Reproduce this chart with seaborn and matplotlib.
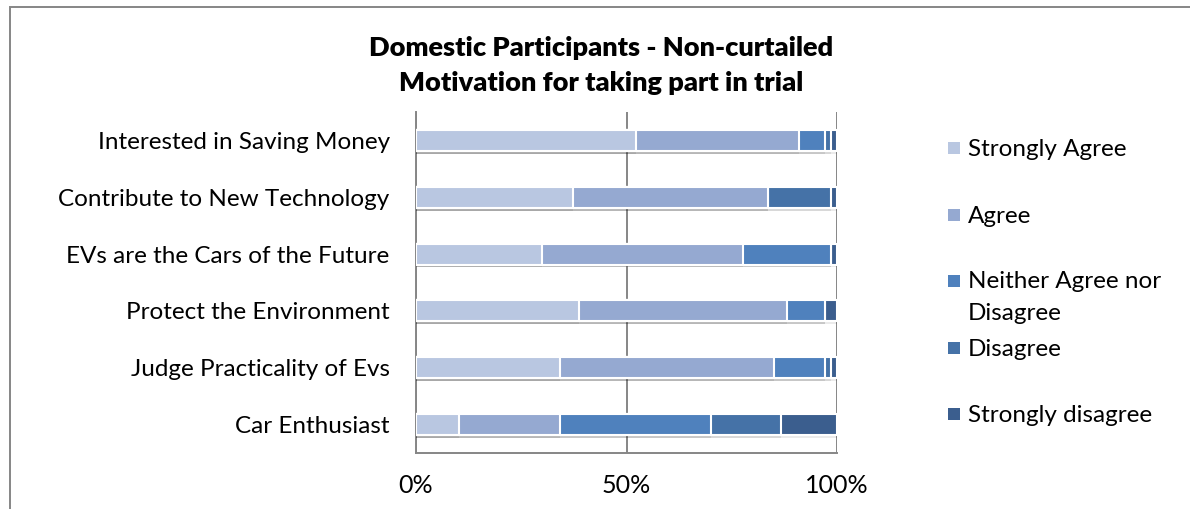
import numpy as np
import pandas as pd
import matplotlib
matplotlib.use("Agg")
import matplotlib.pyplot as plt
import matplotlib.patheffects as pe
from matplotlib.patches import Rectangle
import seaborn as sns

# data (percent of participants)
categories = ["Interested in Saving Money", "Contribute to New Technology",
              "EVs are the Cars of the Future", "Protect the Environment",
              "Judge Practicality of Evs", "Car Enthusiast"]
strongly_agree = [52.2, 37.2, 29.9, 38.7, 34.3, 10.2]
agree = [38.8, 46.4, 47.8, 49.3, 50.8, 24.1]
neither = [6.1, 0.0, 20.8, 9.1, 12.0, 35.8]
disagree = [1.4, 14.9, 0.0, 0.0, 1.5, 16.6]
strongly_disagree = [1.5, 1.5, 1.5, 2.9, 1.4, 13.3]

series = ["Strongly Agree", "Agree", "Neither Agree nor\nDisagree", "Disagree", "Strongly disagree"]
colors = ["#b9c7e1", "#95a9d1", "#4f81bd", "#4572a7", "#3b5e8e"]
xticks = [0, 50, 100]
xticklabels = ["0%", "50%", "100%"]

df = pd.DataFrame({"cat": categories, "sa": strongly_agree, "a": agree,
                   "n": neither, "d": disagree, "sd": strongly_disagree})
cols = ["sa", "a", "n", "d", "sd"]
cum = df[cols].cumsum(axis=1)

sns.set_style("white")
plt.rcParams["font.family"] = ["Lato", "DejaVu Sans"]
plt.rcParams["text.color"] = "black"
plt.rcParams["xtick.color"] = "black"
plt.rcParams["ytick.color"] = "black"

fig = plt.figure(figsize=(11.9, 5.09), dpi=100)
ax = fig.add_axes([0.3496, 0.110, 0.3538, 0.670])

# stacked bars: draw cumulative totals from the right end backwards
shadow = [pe.SimplePatchShadow(offset=(0, -2), alpha=0.08, shadow_rgbFace="#000000"), pe.Normal()]
for i in range(len(cols) - 1, -1, -1):
    sns.barplot(x=cum[cols[i]], y=df["cat"], orient="h", color=colors[i],
                width=0.37, edgecolor="white", linewidth=1.5, saturation=1,
                ax=ax, zorder=3)
for p in ax.patches:
    p.set_path_effects(shadow)

ax.set_xlim(0, 100)
ax.set_ylim(5.5, -0.5)
ax.set_xticks(xticks)
ax.set_xticklabels(xticklabels, fontsize=18)
ax.set_xlabel("")
ax.set_ylabel("")
ax.tick_params(axis="y", which="major", length=0, labelsize=17.5, pad=19)
ax.set_yticks(np.arange(-0.5, 6, 1), minor=True)
ax.tick_params(axis="y", which="minor", length=8, width=1.3, color="#868686", direction="out")
ax.tick_params(axis="x", length=7, width=1.3, color="#868686", direction="out", pad=8)
ax.xaxis.grid(True, color="#868686", linewidth=1.4, zorder=0)
ax.set_axisbelow(True)
for s in ["top", "right"]:
    ax.spines[s].set_visible(False)
for s in ["left", "bottom"]:
    ax.spines[s].set_color("#868686")
    ax.spines[s].set_linewidth(1.4)

fig.text(0.505, 0.905, "Domestic Participants - Non-curtailed", ha="center", va="center",
         fontsize=19.5, fontweight="heavy")
fig.text(0.505, 0.836, "Motivation for taking part in trial", ha="center", va="center",
         fontsize=19.5, fontweight="heavy")

# legend, Excel style: marker next to first line of each label
legend_y = [148, 215, 281, 348, 414]
for lab, c, yy in zip(series, colors, legend_y):
    yf = 1 - yy / 509
    fig.patches.append(Rectangle((948 / 1190, yf - 6 / 509), 12 / 1190, 12 / 509,
                                 transform=fig.transFigure, facecolor=c, edgecolor="none"))
    fig.text(968 / 1190, 1 - (yy - 9.5) / 509, lab, ha="left", va="top", fontsize=17.5,
             linespacing=1.62)

# chart frame
fig.patches.append(Rectangle((10 / 1190, -0.2), 1.5, 1.2 - 7 / 509, transform=fig.transFigure,
                             fill=False, edgecolor="#868686", linewidth=1.4))

fig.savefig("out.png", dpi=100)
